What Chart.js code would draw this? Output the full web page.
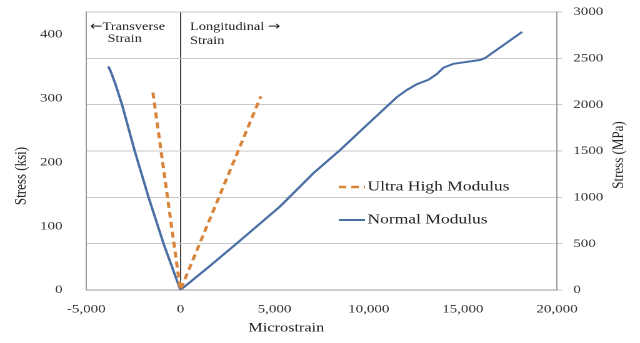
<!DOCTYPE html>
<html>
<head>
<meta charset="utf-8">
<script src="https://cdn.jsdelivr.net/npm/chart.js@4/dist/chart.umd.min.js"></script>
<style>
  html, body { margin: 0; padding: 0; background: #fff; overflow: hidden; }
  /* the source figure is a horizontally stretched Excel chart, so stretch the canvas the same way */
  #wrap { width: 512px; height: 343px; transform: scaleX(1.25); transform-origin: 0 0; }
</style>
</head>
<body>
<div id="wrap"><canvas id="stressChart" width="512" height="343"></canvas></div>
<script>
// strain in microstrain, stress in ksi
const normalStrain = [-3830, -3700, -3460, -3100, -2440, -1700, -900, 0, 1500, 3000, 5300, 7070, 8480, 10000, 11500, 12020, 12550, 13170, 13620, 13970, 14500, 15910, 16180, 18150];
const normalStress = [350, 342, 323, 290, 219, 146, 73, 0, 36, 73, 131, 183, 219, 261, 302, 313, 322, 329, 338, 348, 354, 360, 363, 404];
const ultraStrain = [-1460, 0, 4270];
const ultraStress = [309, 0, 303];

const seriesNames = ["Ultra High Modulus", "Normal Modulus"];
const strainTicks = [-5000, 0, 5000, 10000, 15000, 20000];
const ksiTicks = [0, 100, 200, 300, 400];
const mpaTicks = [0, 500, 1000, 1500, 2000, 2500, 3000];
const KSI_TO_MPA = 6.895;

const serif = '"Liberation Serif", "Times New Roman", serif';
const arrowFont = '12px "DejaVu Sans"';
const ctx = document.getElementById("stressChart").getContext("2d");

function toPoints(xs, ys) {
  return xs.map((x, i) => ({ x: x, y: ys[i] }));
}

function setTicks(values) {
  return (scale) => {
    scale.ticks = values.map((v) => ({ value: v }));
  };
}

// fixed box sizes so the plot area lands where the original one is
function fixBox(width, height) {
  return (s) => {
    if (width != null) s.width = width;
    if (height != null) s.height = height;
    s.paddingTop = 0;
    s.paddingBottom = 0;
  };
}

// axis titles, strain direction notes and the in-plot legend
const overlay = {
  id: "overlay",
  afterDraw(chart) {
    const c = chart.ctx;
    const ds = chart.data.datasets;
    c.save();
    c.fillStyle = "#222";
    c.textBaseline = "middle";

    c.font = "13px " + serif;
    c.textAlign = "center";
    c.fillText("Microstrain", 229, 328);
    c.save();
    c.translate(17, 176);
    c.rotate(-Math.PI / 2);
    c.fillText("Stress (ksi)", 0, 0);
    c.restore();
    c.save();
    c.translate(495, 155);
    c.rotate(-Math.PI / 2);
    c.fillText("Stress (MPa)", 0, 0);
    c.restore();

    // strain direction notes
    const noteFont = "11.5px " + serif;
    c.textAlign = "left";
    c.font = arrowFont;
    c.fillText("\u2190", 72, 27);
    let w = c.measureText("\u2190").width;
    c.font = noteFont;
    c.fillText("Transverse", 72 + w, 27);
    c.fillText("Strain", 86, 39);
    c.fillText("Longitudinal ", 152, 27);
    w = c.measureText("Longitudinal ").width;
    c.font = arrowFont;
    c.fillText("\u2192", 152 + w, 27);
    c.font = noteFont;
    c.fillText("Strain", 152, 41);

    // legend
    c.font = "14px " + serif;
    const rows = [
      { ds: ds[0], y: 187 },
      { ds: ds[1], y: 220 },
    ];
    rows.forEach((r) => {
      c.beginPath();
      c.strokeStyle = r.ds.borderColor;
      c.lineWidth = r.ds.borderWidth;
      c.setLineDash(r.ds.borderDash || []);
      c.moveTo(271, r.y);
      c.lineTo(292, r.y);
      c.stroke();
      c.setLineDash([]);
      c.fillText(r.ds.label, 294, r.y);
    });
    c.restore();
  },
};

new Chart(ctx, {
  type: "line",
  data: {
    datasets: [
      {
        label: seriesNames[0],
        data: toPoints(ultraStrain, ultraStress),
        borderColor: "#d9843b",
        borderWidth: 2.5,
        borderDash: [6, 4],
        pointRadius: 0,
        tension: 0,
        yAxisID: "y",
      },
      {
        label: seriesNames[1],
        data: toPoints(normalStrain, normalStress),
        borderColor: "#4a6fa5",
        borderWidth: 2,
        pointRadius: 0,
        tension: 0,
        yAxisID: "y",
      },
    ],
  },
  options: {
    responsive: false,
    devicePixelRatio: 2,
    animation: false,
    layout: { padding: { top: 12, left: 0, right: 0, bottom: 0 } },
    plugins: {
      legend: { display: false },
      tooltip: { enabled: false },
    },
    scales: {
      x: {
        type: "linear",
        min: strainTicks[0],
        max: strainTicks[strainTicks.length - 1],
        afterBuildTicks: setTicks(strainTicks),
        afterFit: fixBox(null, 53),
        grid: {
          drawTicks: false,
          color: (c) => (c.tick && c.tick.value === 0 ? "#444" : "rgba(0,0,0,0)"),
          lineWidth: 1,
        },
        border: { color: "#999" },
        ticks: {
          padding: 12,
          color: "#333",
          font: { family: serif, size: 12 },
          callback: (v) => v.toLocaleString("en-US"),
        },
      },
      y: {
        position: "left",
        min: 0,
        max: mpaTicks[mpaTicks.length - 1] / KSI_TO_MPA,
        afterBuildTicks: setTicks(ksiTicks),
        afterFit: fixBox(69, null),
        grid: { display: false },
        border: { color: "#999" },
        ticks: {
          padding: 11,
          color: "#333",
          font: { family: serif, size: 12 },
        },
      },
      yMPa: {
        position: "right",
        min: 0,
        max: mpaTicks[mpaTicks.length - 1],
        afterBuildTicks: setTicks(mpaTicks),
        afterFit: fixBox(66.4, null),
        grid: { color: "#c8c8c8", tickLength: 4, drawTicks: true },
        border: { color: "#999" },
        ticks: {
          padding: 9,
          color: "#333",
          font: { family: serif, size: 12 },
          callback: (v) => String(v),
        },
      },
    },
  },
  plugins: [overlay],
});
</script>
</body>
</html>
